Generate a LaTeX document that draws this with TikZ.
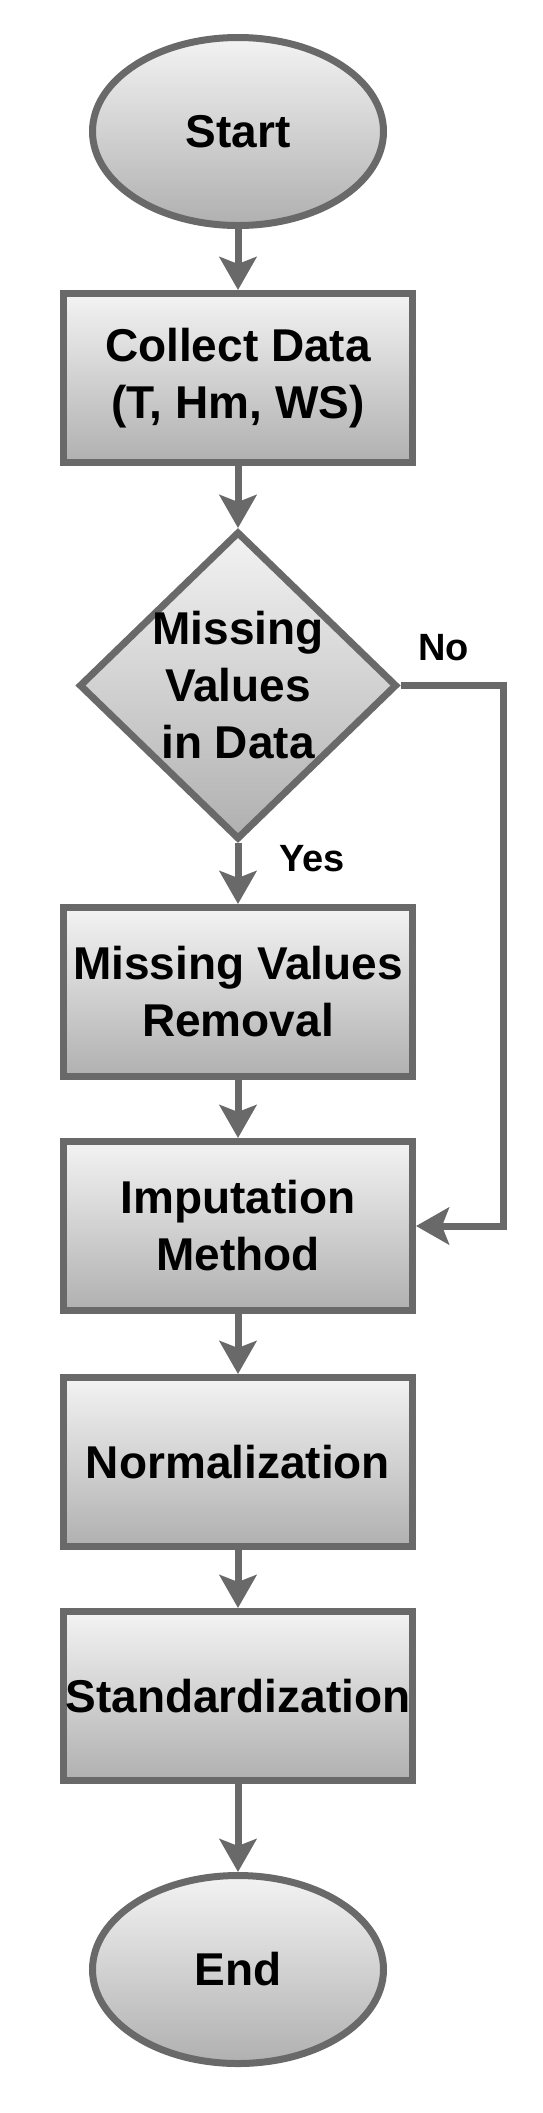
\documentclass[tikz,border=0pt]{standalone}
\usepackage{fontspec}
\setmainfont{Liberation Sans}
\usetikzlibrary{arrows.meta,positioning,shapes.geometric}
\definecolor{edgegray}{RGB}{105,105,105}
\definecolor{shadetop}{RGB}{243,243,243}
\definecolor{shadebot}{RGB}{176,176,176}

\begin{document}
\begin{tikzpicture}[
    x=1pt, y=-1pt,
    font=\fontsize{46}{57}\selectfont\bfseries,
    base/.style={draw=edgegray, line width=7pt, top color=shadetop, bottom color=shadebot, align=center, inner sep=0pt},
    term/.style={base, ellipse, minimum width=291pt, minimum height=188pt},
    box/.style={base, rectangle, minimum width=349pt, minimum height=169pt},
    decision/.style={base, diamond, minimum width=318pt, minimum height=308pt},
    lbl/.style={font=\fontsize{38}{46}\selectfont\bfseries, inner sep=0pt, outer sep=0pt},
    arrow/.style={-{Stealth[length=33pt,width=37pt,inset=7pt]}, draw=edgegray, line width=7pt}
  ]
    \useasboundingbox (0,0) rectangle (542,2113);
    \node[term] (start) at (238,131.5) {Start};
    \node[box, below=61pt of start] (collect) {Collect Data\\(T, Hm, WS)};
    \node[decision, below=62pt of collect,
          label={[align=center]center:Missing\\Values\\in Data}] (dec) {};
    \node[box, below=61pt of dec] (mvr) {Missing Values\\Removal};
    \node[box, below=58pt of mvr] (imp) {Imputation\\Method};
    \node[box, below=60pt of imp] (norm) {Normalization};
    \node[box, below=58pt of norm] (stand) {Standardization};
    \node[term, below=88pt of stand] (stop) {End};
    \foreach \a/\b in {start/collect,collect/dec,dec/mvr,mvr/imp,imp/norm,norm/stand,stand/stop}
      \draw[arrow] (\a) -- (\b);
    \draw[arrow] (dec.east) -- ++(103pt,0) |- (imp.east);
    \node[lbl, above right=25pt and 18pt of dec.east] (no) {No};
    \node[lbl, below right=2pt and 41pt of dec.south] (yes) {Yes};
  \end{tikzpicture}
\end{document}
